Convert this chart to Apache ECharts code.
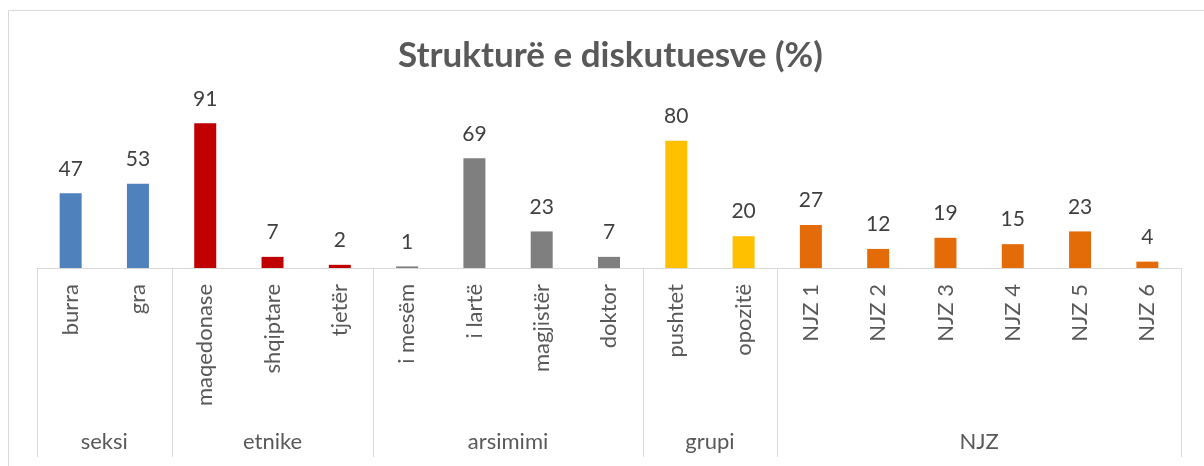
<!DOCTYPE html>
<html><head><meta charset="utf-8">
<script src="https://cdn.jsdelivr.net/npm/echarts@6/dist/echarts.min.js"></script>
<style>html,body{margin:0;padding:0;background:#fff}#c{width:1204px;height:466px}</style>
</head><body><div id="c"></div>
<script>
const titleText = 'Strukturë e diskutuesve (%)';
const categories = ['burra','gra','maqedonase','shqiptare','tjetër','i mesëm','i lartë','magjistër','doktor','pushtet','opozitë','NJZ 1','NJZ 2','NJZ 3','NJZ 4','NJZ 5','NJZ 6'];
const values = [47,53,91,7,2,1,69,23,7,80,20,27,12,19,15,23,4];
const groupNames = ['seksi','etnike','arsimimi','grupi','NJZ'];
const groupSizes = [2,3,4,2,6];
const groupColors = ['#4f81bd','#c00000','#7f7f7f','#ffc000','#e36c09'];

const itemColors = [];
groupSizes.forEach((n,g)=>{for(let i=0;i<n;i++) itemColors.push(groupColors[g]);});

const FONT = 'Lato';
const chart = echarts.init(document.getElementById('c'));
const option = {
  animation:false,
  title:{text:titleText,left:393,top:33,textStyle:{fontFamily:FONT,fontSize:35,fontWeight:'bold',color:'#595959'}},
  grid:{left:37,right:23,top:109,bottom:198},
  xAxis:{type:'category',data:categories,
    axisLine:{lineStyle:{color:'#d9d9d9',width:1}},
    axisTick:{show:false},
    axisLabel:{rotate:90,margin:16,fontFamily:FONT,fontSize:22,color:'#595959',interval:0}},
  yAxis:{type:'value',min:0,max:100,show:false},
  series:[{type:'bar',barWidth:22,
    data:values.map((v,i)=>({value:v,itemStyle:{color:itemColors[i]}})),
    label:{show:true,position:'top',distance:14,fontFamily:FONT,fontSize:21,color:'#404040'}}]
};
chart.setOption(option);

function draw(){
  const g=[];
  const y0 = chart.convertToPixel({yAxisIndex:0},0);
  const c0 = chart.convertToPixel({xAxisIndex:0},categories[0]);
  const c1 = chart.convertToPixel({xAxisIndex:0},categories[1]);
  const w = c1-c0;
  const left = c0 - w/2;
  let idx=0;
  const bounds=[left];
  groupSizes.forEach(n=>{idx+=n;bounds.push(left+idx*w);});
  bounds.forEach(x=>{
    g.push({type:'line',shape:{x1:Math.round(x)+0.5,y1:y0,x2:Math.round(x)+0.5,y2:y0+189},style:{stroke:'#d9d9d9',lineWidth:1}});
  });
  groupNames.forEach((name,i)=>{
    g.push({type:'text',style:{text:name,x:(bounds[i]+bounds[i+1])/2,y:y0+174,textAlign:'center',textVerticalAlign:'middle',font:'22px '+FONT,fill:'#595959'}});
  });
  g.push({type:'rect',shape:{x:8.5,y:10.5,width:1220,height:500},style:{fill:'none',stroke:'#d9d9d9',lineWidth:1},z:-1});
  chart.setOption({graphic:g});
}
draw();
</script></body></html>
